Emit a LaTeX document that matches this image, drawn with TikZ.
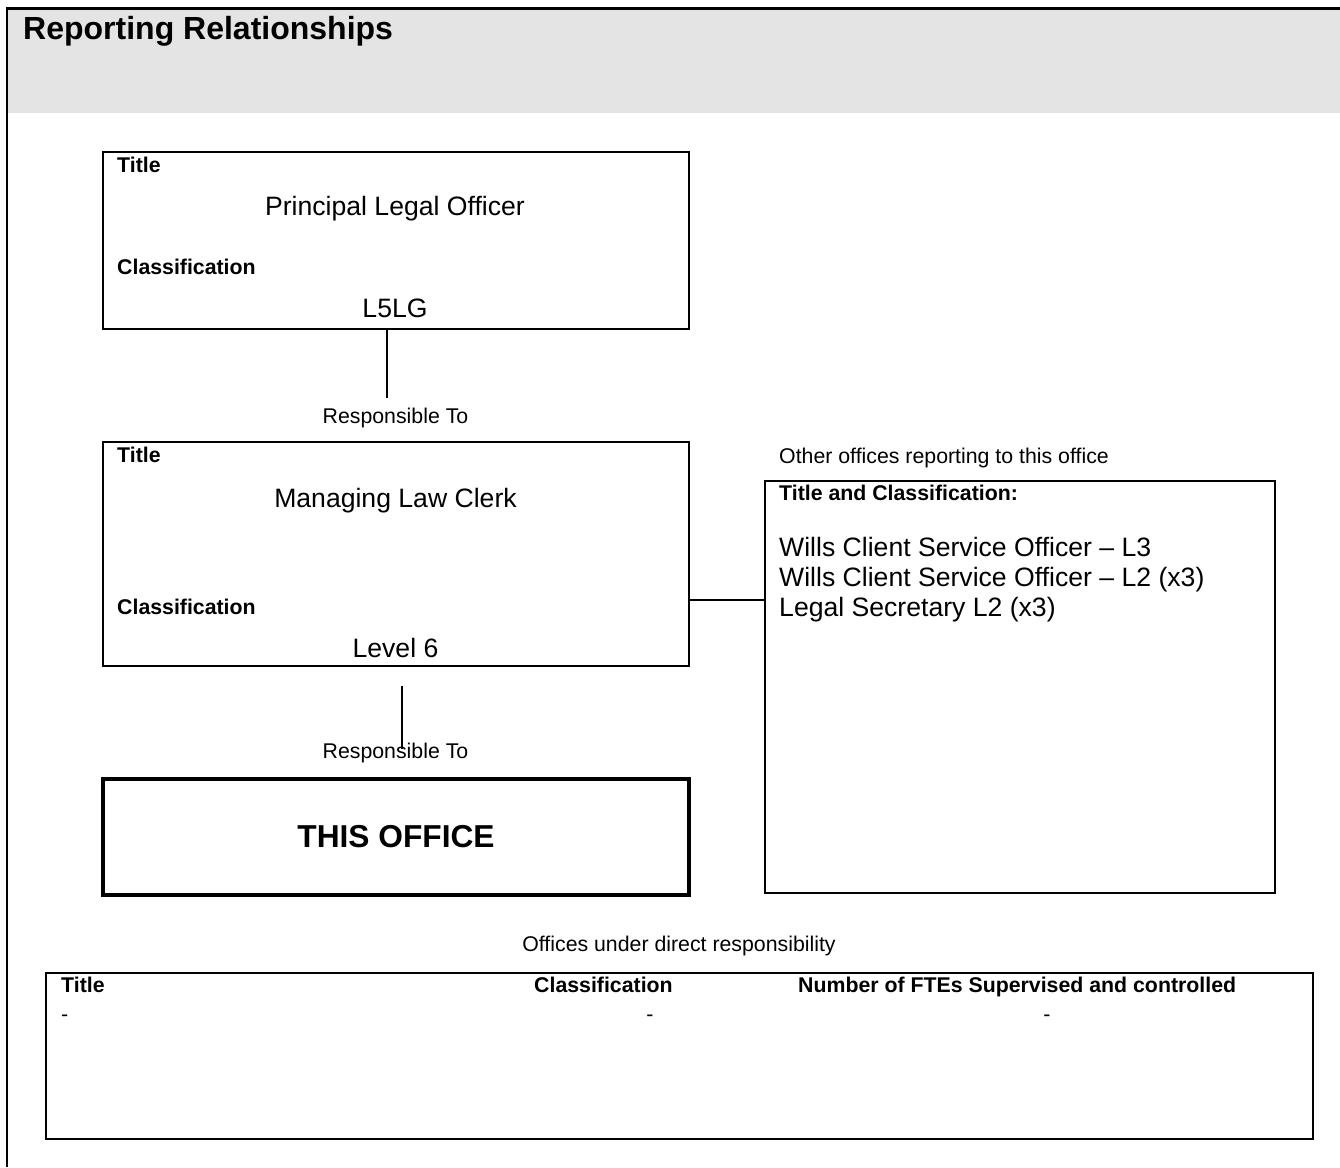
\documentclass[tikz,border=0pt]{standalone}
\usepackage{fontspec}
\setmainfont{Liberation Sans}
\definecolor{band}{HTML}{E4E4E4}
\tikzset{
  box/.style={draw, rectangle, line width=2pt, inner sep=0pt, outer sep=0pt},
  heavybox/.style={draw, rectangle, line width=4.5pt, inner sep=0pt, outer sep=0pt,
    font=\bfseries\fontsize{31.7}{36}\selectfont},
  small/.style={inner sep=0pt, font=\fontsize{21.3}{25}\selectfont},
  smallb/.style={inner sep=0pt, font=\bfseries\fontsize{21.3}{25}\selectfont},
  big/.style={inner sep=0pt, font=\fontsize{26.6}{30}\selectfont},
  heading/.style={inner sep=0pt, font=\bfseries\fontsize{32}{36}\selectfont},
  conn/.style={line width=1.6pt},
  frame/.style={line width=2.6pt},
}
\begin{document}
\begin{tikzpicture}[x=1pt,y=-1pt]
\useasboundingbox (0,0) rectangle (1340,1167);
% header band and frame
\fill[band] (8,10) rectangle (1340,113);
\draw[frame] (7,1167) -- (7,8.5) -- (1340,8.5);
\node[heading, anchor=base west] (head) at (23,39.5) {Reporting Relationships};

% Box 1: Principal Legal Officer
\node[box, minimum width=586pt, minimum height=177pt] (plo) at (396,240.5) {};
\node[smallb, anchor=base west] (plot) at (117,172) {Title};
\node[big, anchor=base] (plon) at (395,215) {Principal Legal Officer};
\node[smallb, anchor=base west] (ploc) at (117,274) {Classification};
\node[big, anchor=base] (plol) at (395,317) {L5LG};

% connector 1
\coordinate (c1) at (387,398);
\draw[conn] ([xshift=-9pt]plo.south) -- (c1);
\node[small, anchor=base] (resp1) at (395.5,423.5) {Responsible To};

% Box 2: Managing Law Clerk
\node[box, minimum width=586pt, minimum height=224pt] (mlc) at (396,554) {};
\node[smallb, anchor=base west] (mlct) at (117,462) {Title};
\node[big, anchor=base] (mlcn) at (395.5,507) {Managing Law Clerk};
\node[smallb, anchor=base west] (mlcc) at (117,614.5) {Classification};
\node[big, anchor=base] (mlcl) at (395.5,657) {Level 6};

% connector 2
\coordinate (c2a) at (402,686);
\coordinate (c2b) at (402,749);
\draw[conn] (c2a) -- (c2b);
\node[small, anchor=base] (resp2) at (395.5,758.5) {Responsible To};

% This office
\node[heavybox, minimum width=586pt, minimum height=116pt] (this) at (396,837) {THIS OFFICE};

% Other offices box
\node[small, anchor=base west] (othl) at (779,463.5) {Other offices reporting to this office};
\node[box, minimum width=510pt, minimum height=412pt] (oth) at (1020,687) {};
\node[smallb, anchor=base west] (otht) at (779,500) {Title and Classification:};
\node[big, anchor=base west] (oth1) at (779,556) {Wills Client Service Officer – L3};
\node[big, anchor=base west] (oth2) at (779,586) {Wills Client Service Officer – L2 (x3)};
\node[big, anchor=base west] (oth3) at (779,616) {Legal Secretary L2 (x3)};

% connector 3
\coordinate (c3) at (727,600);
\draw[conn] (mlc.east |- c3) -- (oth.west |- c3);

% Offices under direct responsibility
\node[small, anchor=base] (undl) at (679,951.5) {Offices under direct responsibility};
\node[box, minimum width=1267pt, minimum height=166pt] (tab) at (679.5,1056) {};
\node[smallb, anchor=base west] (tabt) at (61,992.5) {Title};
\node[smallb, anchor=base west] (tabc) at (534,992.5) {Classification};
\node[smallb, anchor=base west] (tabn) at (798,992.5) {Number of FTEs Supervised and controlled};
\node[small, anchor=base west] (d1) at (61,1021) {-};
\node[small, anchor=base] (d2) at (650,1021) {-};
\node[small, anchor=base] (d3) at (1047,1021) {-};
\end{tikzpicture}
\end{document}
